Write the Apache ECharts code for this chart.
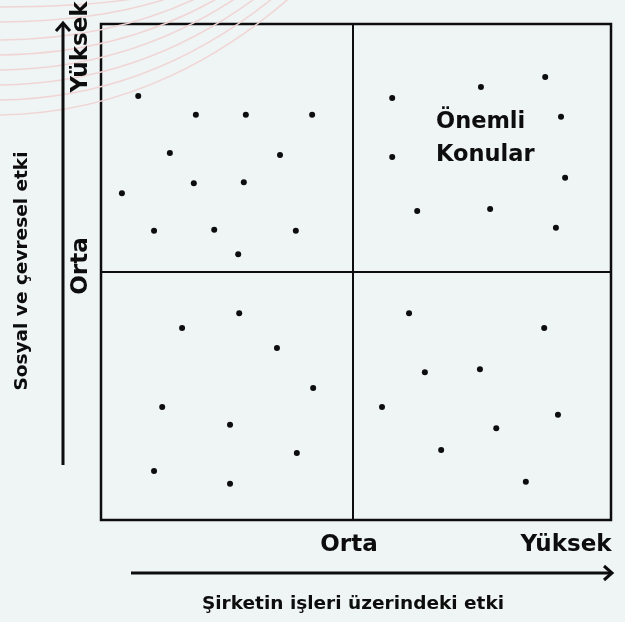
<!DOCTYPE html>
<html>
<head>
<meta charset="utf-8">
<script src="https://cdn.jsdelivr.net/npm/echarts@6/dist/echarts.min.js"></script>
<style>
  html, body { margin: 0; padding: 0; background: #eff4f4; }
  #chart { width: 625px; height: 622px; }
</style>
</head>
<body>
<div id="chart"></div>
<script>
// Önemlilik matrisi: iki eksen 0-100 ölçeğinde, eşikler "Orta"
const xName = 'Şirketin işleri üzerindeki etki';
const yName = 'Sosyal ve çevresel etki';
const levelLabels = ['Orta', 'Yüksek'];
const focusLabel = ['Önemli', 'Konular'];

const xThreshold = 49.4;
const yThreshold = 50;

// [etki (x), sosyal etki (y)]
const topLeft = [
  [7.3, 85.5], [18.6, 81.7], [28.4, 81.7], [41.4, 81.7],
  [13.5, 74.0], [35.1, 73.6], [4.1, 65.9], [18.2, 67.9],
  [28.0, 68.1], [10.4, 58.3], [22.2, 58.5], [38.2, 58.3],
  [26.9, 53.6]
];
const topRight = [
  [57.1, 85.1], [74.5, 87.3], [87.1, 89.3], [90.2, 81.3],
  [57.1, 73.2], [91.0, 69.0], [62.0, 62.3], [76.3, 62.7],
  [89.2, 58.9]
];
const bottomLeft = [
  [27.1, 41.7], [15.9, 38.7], [34.5, 34.7], [41.6, 26.6],
  [12.0, 22.8], [25.3, 19.2], [38.4, 13.5], [10.4, 9.9],
  [25.3, 7.3]
];
const bottomRight = [
  [60.4, 41.7], [86.9, 38.7], [63.5, 29.8], [74.3, 30.4],
  [55.1, 22.8], [89.6, 21.2], [77.5, 18.5], [66.7, 14.1],
  [83.3, 7.7]
];

const chart = echarts.init(document.getElementById('chart'));
const FONT = '"DejaVu Sans", sans-serif';
const INK = '#0d0d0d';

// arka plandaki soluk pembe eğriler (süs)
const curveStarts = [7, 22, 40, 55, 70, 85, 100, 115];
const curveEnds = [150, 172, 197, 217, 234, 253, 270, 286];
const arcs = curveStarts.map((y0, i) => {
  const xe = curveEnds[i];
  return {
    type: 'bezierCurve',
    silent: true,
    z: 0,
    shape: {
      x1: -5, y1: y0,
      cpx1: xe * 0.45, cpy1: y0,
      cpx2: xe * 0.8, cpy2: y0 * 0.45,
      x2: xe + 8, y2: -6
    },
    style: { stroke: '#f1d5d5', lineWidth: 1.5, fill: null }
  };
});

const textStyle = (extra) => Object.assign({
  fill: INK, fontFamily: FONT, fontWeight: 'bold', textAlign: 'center', textVerticalAlign: 'middle'
}, extra);

const option = {
  backgroundColor: '#eff4f4',
  animation: false,
  grid: {
    left: 101, top: 24, width: 510, height: 496,
    show: true, borderColor: INK, borderWidth: 2.5, backgroundColor: 'transparent'
  },
  xAxis: {
    type: 'value', min: 0, max: 100,
    axisLine: { show: false }, axisTick: { show: false },
    axisLabel: { show: false }, splitLine: { show: false }
  },
  yAxis: {
    type: 'value', min: 0, max: 100,
    axisLine: { show: false }, axisTick: { show: false },
    axisLabel: { show: false }, splitLine: { show: false }
  },
  series: [{
    type: 'scatter',
    symbolSize: 6,
    itemStyle: { color: INK, opacity: 1 },
    data: [].concat(topLeft, topRight, bottomLeft, bottomRight),
    markLine: {
      silent: true,
      symbol: 'none',
      label: { show: false },
      lineStyle: { color: INK, width: 2, type: 'solid', opacity: 1 },
      data: [{ xAxis: xThreshold }, { yAxis: yThreshold }]
    }
  }],
  graphic: arcs.concat([
    // dikey ok
    { type: 'line', z: 10, shape: { x1: 63, y1: 465, x2: 63, y2: 25 },
      style: { stroke: INK, lineWidth: 3 } },
    { type: 'polyline', z: 10, shape: { points: [[56, 31], [63, 23], [70, 31]] },
      style: { stroke: INK, lineWidth: 3, fill: null } },
    // yatay ok
    { type: 'line', z: 10, shape: { x1: 131, y1: 573, x2: 610, y2: 573 },
      style: { stroke: INK, lineWidth: 3 } },
    { type: 'polyline', z: 10, shape: { points: [[604, 566], [612, 573], [604, 580]] },
      style: { stroke: INK, lineWidth: 3, fill: null } },
    // y etiketleri
    { type: 'text', z: 10, x: 81, y: 47, rotation: Math.PI / 2,
      style: textStyle({ text: levelLabels[1], fontSize: 23 }) },
    { type: 'text', z: 10, x: 81, y: 266, rotation: Math.PI / 2,
      style: textStyle({ text: levelLabels[0], fontSize: 23 }) },
    { type: 'text', z: 10, x: 22, y: 271, rotation: Math.PI / 2,
      style: textStyle({ text: yName, fontSize: 18.5 }) },
    // x etiketleri
    { type: 'text', z: 10, x: 349, y: 545,
      style: textStyle({ text: levelLabels[0], fontSize: 23 }) },
    { type: 'text', z: 10, x: 566, y: 545,
      style: textStyle({ text: levelLabels[1], fontSize: 23 }) },
    { type: 'text', z: 10, x: 353, y: 604,
      style: textStyle({ text: xName, fontSize: 18.5 }) },
    // Önemli Konular
    { type: 'text', z: 10, x: 436, y: 122,
      style: textStyle({ text: focusLabel[0], fontSize: 22.5, textAlign: 'left' }) },
    { type: 'text', z: 10, x: 436, y: 155,
      style: textStyle({ text: focusLabel[1], fontSize: 22.5, textAlign: 'left' }) }
  ])
};

chart.setOption(option);
window.addEventListener('resize', () => chart.resize());
</script>
</body>
</html>
